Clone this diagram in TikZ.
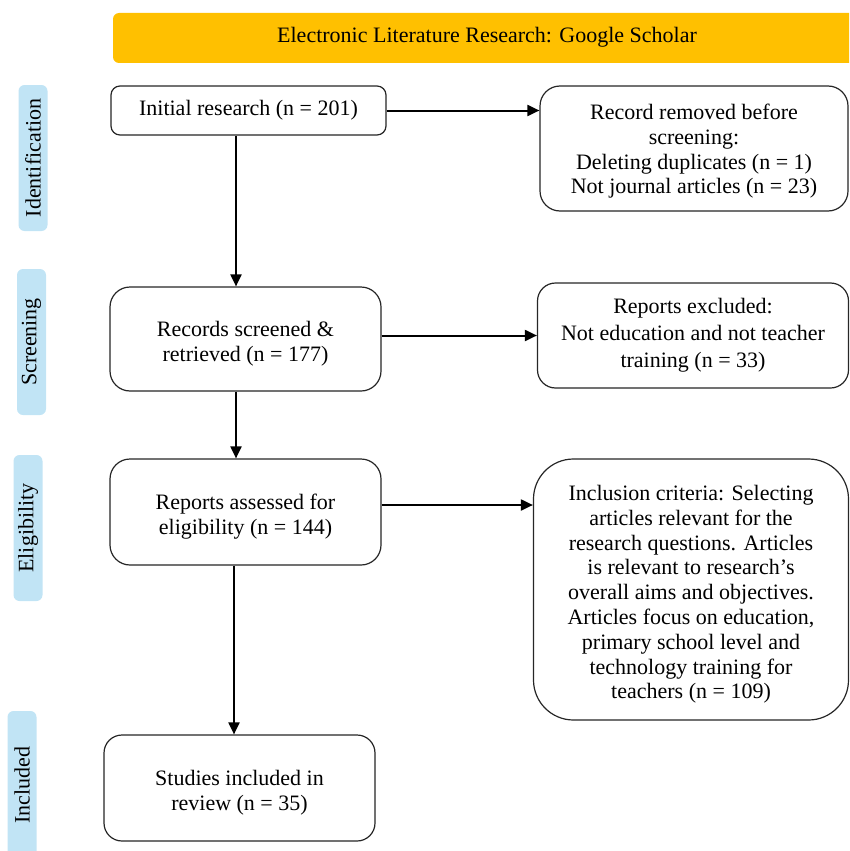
\documentclass[tikz,border=0pt]{standalone}
\usepackage{fontspec}
\setmainfont{Liberation Serif}
\usetikzlibrary{arrows.meta}
\definecolor{hdryellow}{RGB}{255,192,0}
\definecolor{sideblue}{RGB}{193,228,245}
\newcommand{\toppad}{\rule{0pt}{25pt}}
\newcommand{\smallpad}{\rule{0pt}{21pt}}
\begin{document}
\begin{tikzpicture}[x=1pt,y=-1pt,
  font=\fontsize{22}{24.8}\selectfont,
  box/.style={draw=black!85, line width=1.2pt, fill=white, align=center, inner sep=0pt},
  side/.style={fill=sideblue, rounded corners=6pt, rotate=90, inner sep=0pt, minimum height=29pt},
  arr/.style={line width=2pt, -{Triangle[length=12pt,width=11pt]}}]
\useasboundingbox (0,0) rectangle (849,851);
\clip (0,0) rectangle (849,851);
% header
\node[fill=hdryellow, rounded corners=6pt, minimum width=747pt, minimum height=50pt, inner sep=0pt] (hdr) at (486.5,38) {};
\node (hdrtext) at (487,37) {Electronic Literature Research: Google Scholar};
% side labels
\node[side, minimum width=146pt] (sid) at (33,158) {Identification};
\node[side, minimum width=146pt] (ssc) at (31.5,342) {Screening};
\node[side, minimum width=146pt] (sel) at (28,528) {Eligibility};
\node[side, minimum width=148pt] (sin) at (22,785) {Included};
% boxes
\node[box, rounded corners=9pt, minimum width=275pt, minimum height=49pt] (init) at (248.5,110.5) {Initial research (n = 201)};
\node[box, rounded corners=20pt, minimum width=308pt, minimum height=125pt] (rem) at (694,148.5) {\smallpad Record removed before\\screening:\\Deleting duplicates (n = 1)\\Not journal articles (n = 23)};
\node[box, rounded corners=20pt, minimum width=271pt, minimum height=104pt] (scr) at (245.5,339) {\toppad Records screened \&\\retrieved (n = 177)};
\node[box, rounded corners=18pt, minimum width=311pt, minimum height=105pt, font=\fontsize{22}{27}\selectfont] (exc) at (693,335.5) {Reports excluded:\\Not education and not teacher\\training (n = 33)};
\node[box, rounded corners=20pt, minimum width=271pt, minimum height=106pt] (ass) at (245.5,512) {\toppad Reports assessed for\\eligibility (n = 144)};
\node[box, rounded corners=40pt, minimum width=315pt, minimum height=261pt] (inc) at (691,589.5) {\toppad Inclusion criteria: Selecting\\articles relevant for the\\research questions. Articles\\is relevant to research’s\\overall aims and objectives.\\Articles focus on education,\\primary school level and\\technology training for\\teachers (n = 109)};
\node[box, rounded corners=18pt, minimum width=271pt, minimum height=106pt] (stu) at (239.5,788) {\toppad Studies included in\\review (n = 35)};
% arrows
\draw[arr] (init.east) -- (init.east -| rem.west);
\draw[arr] ([xshift=-12.5pt]init.south) -- ([xshift=-12.5pt]init.south |- scr.north);
\draw[arr] (exc.west -| scr.east) -- (exc.west);
\draw[arr] ([xshift=-9.5pt]scr.south) -- ([xshift=-9.5pt]scr.south |- ass.north);
\draw[arr] ([yshift=7pt]ass.east) -- ([yshift=7pt]ass.east -| inc.west);
\draw[arr] ([xshift=-11.5pt]ass.south) -- ([xshift=-11.5pt]ass.south |- stu.north);
\end{tikzpicture}
\end{document}
